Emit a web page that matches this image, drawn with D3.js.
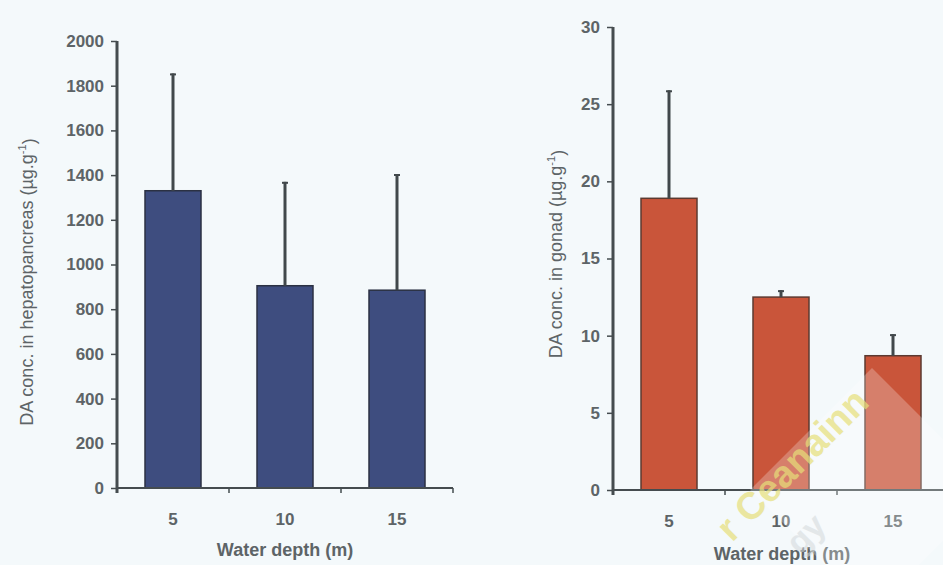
<!DOCTYPE html>
<html>
<head>
<meta charset="utf-8">
<script src="https://cdn.jsdelivr.net/npm/d3@7"></script>
<style>
  html, body { margin: 0; padding: 0; background: #f4f9fb; }
  svg { display: block; font-family: "Liberation Sans", Arial, sans-serif; }
  .tick text { fill: #5d6467; font-size: 17px; font-weight: bold; }
  .axis path, .axis line { stroke: #454c4f; }
</style>
</head>
<body>
<svg id="chart" width="943" height="565"></svg>
<script>
// water depth categories (m)
const depths = ["5", "10", "15"]

// DA concentration in hepatopancreas (ug/g): mean and mean + SD
const hepMean = [1330, 905, 885]
const hepTop = [1855, 1370, 1405]
const hepTicks = [0, 200, 400, 600, 800, 1000, 1200, 1400, 1600, 1800, 2000]

// DA concentration in gonad (ug/g)
const gonMean = [18.9, 12.5, 8.7]
const gonTop = [25.9, 12.95, 10.1]
const gonTicks = [0, 5, 10, 15, 20, 25, 30]

const txt = "#5d6467"
const svg = d3.select("#chart")

const panels = [
  {
    mean: hepMean, top: hepTop, ticks: hepTicks, max: 2000,
    x0: 117, x1: 453, y0: 488, y1: 41,
    fill: "#3e4d7f", stroke: "#2b3143",
    ytitle: "DA conc. in hepatopancreas (\u00b5g.g",
    ytx: 27, yty: 282, xtx: 285, xty: 556
  },
  {
    mean: gonMean, top: gonTop, ticks: gonTicks, max: 30,
    x0: 613, x1: 949, y0: 490, y1: 27,
    fill: "#c9553a", stroke: "#5b3a31",
    ytitle: "DA conc. in gonad (\u00b5g.g",
    ytx: 556, yty: 254, xtx: 782, xty: 560
  }
]

panels.forEach(function(p) {
  const g = svg.append("g")

  const x = d3.scaleBand()
    .domain(depths)
    .range([p.x0, p.x1])
    .paddingInner(0.5)
    .paddingOuter(0.25)

  const y = d3.scaleLinear()
    .domain([0, p.max])
    .range([p.y0, p.y1])

  // bars
  g.selectAll("rect.bar")
    .data(p.mean)
    .join("rect")
    .attr("class", "bar")
    .attr("x", (d, i) => x(depths[i]))
    .attr("width", x.bandwidth())
    .attr("y", (d) => y(d))
    .attr("height", (d) => y(0) - y(d))
    .attr("fill", p.fill)
    .attr("stroke", p.stroke)
    .attr("stroke-width", 1.5)

  // upper error bars
  g.selectAll("line.err")
    .data(p.top)
    .join("line")
    .attr("class", "err")
    .attr("x1", (d, i) => x(depths[i]) + x.bandwidth() / 2)
    .attr("x2", (d, i) => x(depths[i]) + x.bandwidth() / 2)
    .attr("y1", (d, i) => y(p.mean[i]))
    .attr("y2", (d) => y(d))
    .attr("stroke", "#41484b")
    .attr("stroke-width", 3)

  g.selectAll("line.cap")
    .data(p.top)
    .join("line")
    .attr("class", "cap")
    .attr("x1", (d, i) => x(depths[i]) + x.bandwidth() / 2 - 3)
    .attr("x2", (d, i) => x(depths[i]) + x.bandwidth() / 2 + 3)
    .attr("y1", (d) => y(d) + 1)
    .attr("y2", (d) => y(d) + 1)
    .attr("stroke", "#41484b")
    .attr("stroke-width", 2)

  // y axis
  const ya = g.append("g")
    .attr("class", "axis")
    .attr("transform", `translate(${p.x0},0)`)
    .call(d3.axisLeft(y).tickValues(p.ticks).tickSize(6).tickPadding(7).tickFormat(d3.format("d")))
  ya.select(".domain").attr("stroke-width", 3).attr("d", `M0,${p.y0 + 5}V${p.y1}`)
  ya.selectAll(".tick line").attr("stroke-width", 1.5)

  // x axis: baseline with ticks between categories
  const step = x.step()
  const bounds = depths.map((d, i) => p.x0 + step * (i + 1))
  g.append("line")
    .attr("x1", p.x0).attr("x2", p.x1)
    .attr("y1", y(0)).attr("y2", y(0))
    .attr("stroke", "#454c4f").attr("stroke-width", 2)
  g.selectAll("line.xt")
    .data(bounds)
    .join("line")
    .attr("class", "xt")
    .attr("x1", (d) => d).attr("x2", (d) => d)
    .attr("y1", y(0)).attr("y2", y(0) + 5)
    .attr("stroke", "#454c4f").attr("stroke-width", 1.5)

  g.selectAll("text.xl")
    .data(depths)
    .join("text")
    .attr("class", "xl")
    .attr("x", (d) => x(d) + x.bandwidth() / 2)
    .attr("y", y(0) + 37)
    .attr("text-anchor", "middle")
    .attr("fill", txt)
    .attr("font-size", 17)
    .attr("font-weight", "bold")
    .text((d) => d)

  g.append("text")
    .attr("x", p.xtx)
    .attr("y", p.xty)
    .attr("text-anchor", "middle")
    .attr("fill", txt)
    .attr("font-size", 18)
    .attr("font-weight", "bold")
    .text("Water depth (m)")

  const yt = g.append("text")
    .attr("transform", `translate(${p.ytx},${p.yty}) rotate(-90)`)
    .attr("text-anchor", "middle")
    .attr("dy", "0.35em")
    .attr("fill", txt)
    .attr("font-size", 18)
  yt.append("tspan").text(p.ytitle)
  yt.append("tspan").attr("font-size", 11).attr("dy", "-0.7em").text("-1")
  yt.append("tspan").attr("dy", "0.5em").text(")")
})

// faint watermark in the lower right corner
const wm = svg.append("g").attr("pointer-events", "none")
wm.append("path")
  .attr("d", "M872,368L994,490L872,612L750,490Z")
  .attr("fill", "#ffffff")
  .attr("opacity", 0.25)
wm.append("text")
  .attr("transform", "translate(732,543) rotate(-45)")
  .attr("fill", "#e6df7a")
  .attr("opacity", 0.7)
  .attr("font-size", 38)
  .attr("font-weight", "bold")
  .text("r Ceanainn")
wm.append("text")
  .attr("transform", "translate(800,556) rotate(-45)")
  .attr("fill", "#d3d8db")
  .attr("opacity", 0.55)
  .attr("font-size", 34)
  .attr("font-weight", "bold")
  .text("gy")
</script>
</body>
</html>
